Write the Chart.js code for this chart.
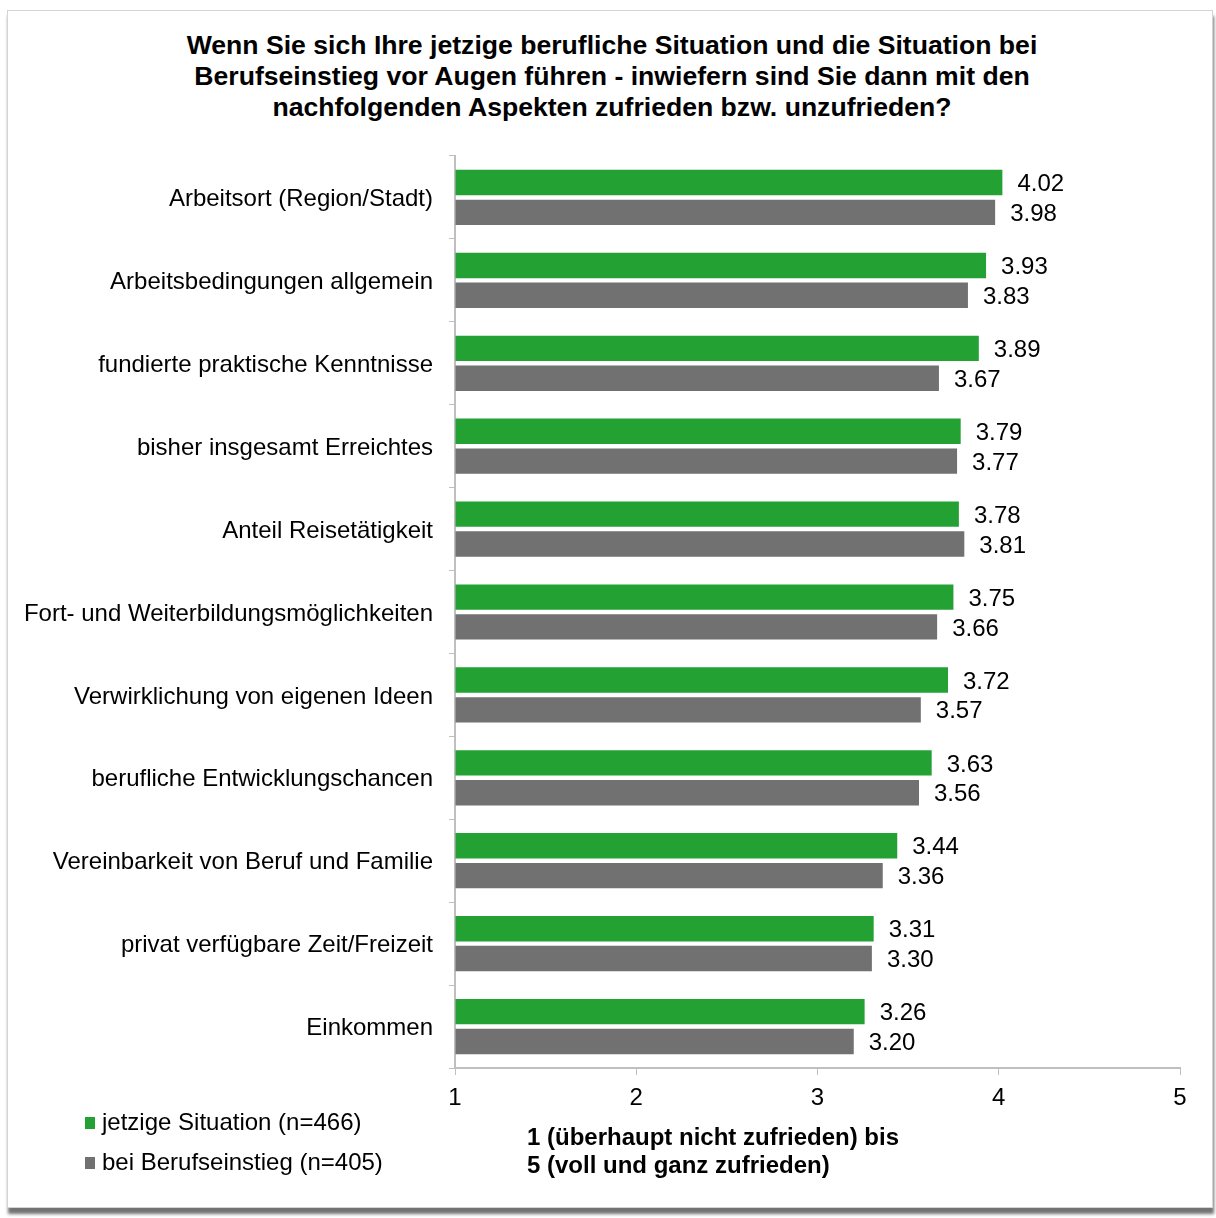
<!DOCTYPE html>
<html>
<head>
<meta charset="utf-8">
<script src="https://cdn.jsdelivr.net/npm/chart.js@4"></script>
<style>
    html, body { margin: 0; padding: 0; background: #fff; }
    body { width: 1216px; height: 1218px; position: relative; overflow: hidden; font-family: "Liberation Sans", Arial, sans-serif; }
    .frame { position: absolute; left: 7px; top: 10px; width: 1204px; height: 1196px; border: 1px solid #d4d4d4; box-shadow: 1px 6px 3px rgba(0,0,0,0.55); background: #fff; }
    .title { position: absolute; left: 0; width: 1224px; top: 30px; text-align: center; font-weight: bold; font-size: 26.6px; line-height: 31px; color: #000; white-space: nowrap; }
    #chartWrap { position: absolute; left: 0; top: 0; width: 1216px; height: 1218px; }
    .legend { position: absolute; left: 85px; top: 1102px; font-size: 24px; color: #000; white-space: nowrap; }
    .legend div { height: 40px; line-height: 40px; }
    .legend span { display: inline-block; width: 10px; height: 12px; margin-right: 7px; vertical-align: 1px; }
    .xcaption { position: absolute; left: 527px; top: 1123px; font-weight: bold; font-size: 24px; line-height: 28px; color: #000; white-space: nowrap; }
</style>
</head>
<body>
<div class="frame"></div>
<div class="title">Wenn Sie sich Ihre jetzige berufliche Situation und die Situation bei<br>Berufseinstieg vor Augen führen - inwiefern sind Sie dann mit den<br>nachfolgenden Aspekten zufrieden bzw. unzufrieden?</div>
<div id="chartWrap"><canvas id="aspectsChart" width="1216" height="1218"></canvas></div>
<div class="legend">
    <div><span style="background:#23a133"></span>jetzige Situation (n=466)</div>
    <div><span style="background:#717171"></span>bei Berufseinstieg (n=405)</div>
</div>
<div class="xcaption">1 (überhaupt nicht zufrieden) bis<br>5 (voll und ganz zufrieden)</div>

<script>
const categories = [
    'Arbeitsort (Region/Stadt)',
    'Arbeitsbedingungen allgemein',
    'fundierte praktische Kenntnisse',
    'bisher insgesamt Erreichtes',
    'Anteil Reisetätigkeit',
    'Fort- und Weiterbildungsmöglichkeiten',
    'Verwirklichung von eigenen Ideen',
    'berufliche Entwicklungschancen',
    'Vereinbarkeit von Beruf und Familie',
    'privat verfügbare Zeit/Freizeit',
    'Einkommen'
];
const jetzigeSituation = [4.02, 3.93, 3.89, 3.79, 3.78, 3.75, 3.72, 3.63, 3.44, 3.31, 3.26];
const berufseinstieg = [3.98, 3.83, 3.67, 3.77, 3.81, 3.66, 3.57, 3.56, 3.36, 3.30, 3.20];
const xTicks = [1, 2, 3, 4, 5];

const FONT = '"Liberation Sans", Arial, sans-serif';
const AXIS_GREY = '#bfbfbf';

// value labels right of each bar
const valueLabels = {
    id: 'valueLabels',
    afterDatasetsDraw(chart) {
        const ctx = chart.ctx;
        ctx.save();
        ctx.font = '24px ' + FONT;
        ctx.fillStyle = '#000';
        ctx.textAlign = 'left';
        ctx.textBaseline = 'middle';
        chart.data.datasets.forEach((ds, i) => {
            chart.getDatasetMeta(i).data.forEach((bar, j) => {
                ctx.fillText(ds.data[j].toFixed(2), bar.x + 15, bar.y + 2);
            });
        });
        ctx.restore();
    }
};

new Chart(document.getElementById('aspectsChart').getContext('2d'), {
    type: 'bar',
    data: {
        labels: categories,
        datasets: [
            { label: 'jetzige Situation (n=466)', data: jetzigeSituation, backgroundColor: '#23a133', base: 1,
              categoryPercentage: 0.72, barPercentage: 0.85 },
            { label: 'bei Berufseinstieg (n=405)', data: berufseinstieg, backgroundColor: '#717171', base: 1,
              categoryPercentage: 0.72, barPercentage: 0.85 }
        ]
    },
    options: {
        indexAxis: 'y',
        responsive: false,
        animation: false,
        layout: { padding: { top: 156, right: 36, bottom: 0, left: 0 } },
        plugins: { legend: { display: false }, tooltip: { enabled: false }, title: { display: false } },
        scales: {
            x: {
                min: 1, max: 5,
                afterFit: s => { s.height = 150; },
                afterBuildTicks: s => { s.ticks = xTicks.map(v => ({ value: v })); },
                grid: { drawOnChartArea: false, color: AXIS_GREY, tickLength: 7, lineWidth: 1 },
                border: { color: AXIS_GREY, width: 2 },
                ticks: { color: '#000', font: { family: FONT, size: 24 }, padding: 9 }
            },
            y: {
                afterFit: s => { s.width = 455; },
                grid: { drawOnChartArea: false, color: AXIS_GREY, tickLength: 6, offset: true },
                border: { color: AXIS_GREY, width: 2 },
                ticks: { color: '#000', font: { family: FONT, size: 24 }, padding: 16, labelOffset: 2 }
            }
        }
    },
    plugins: [valueLabels]
});
</script>
</body>
</html>
